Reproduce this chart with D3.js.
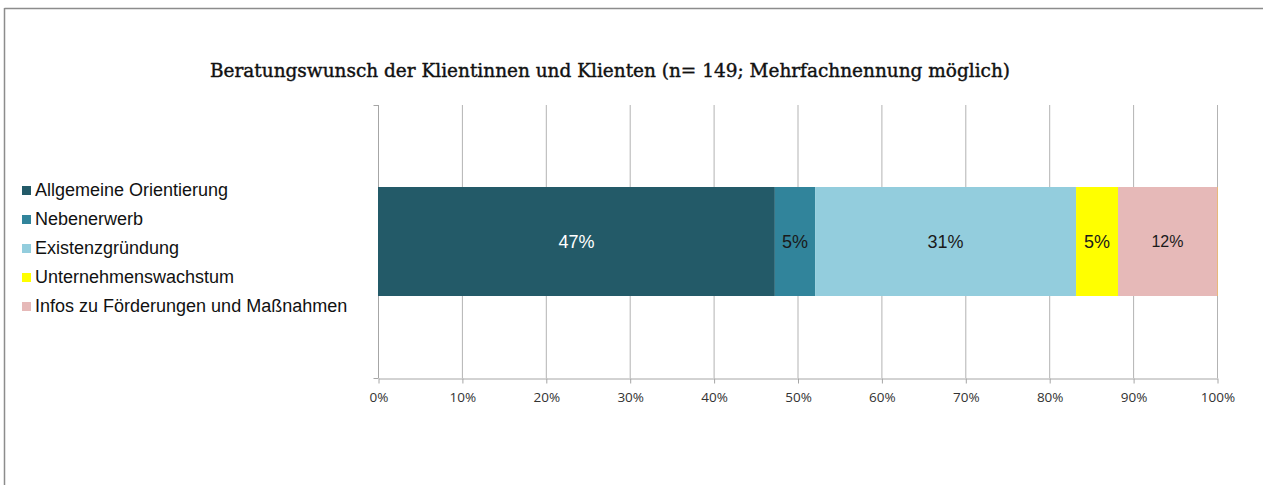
<!DOCTYPE html>
<html>
<head>
<meta charset="utf-8">
<script src="https://cdn.jsdelivr.net/npm/d3@7"></script>
<style>
  body { margin: 0; background: #fff; }
  svg { display: block; }
</style>
</head>
<body>
<div id="plot"></div>
<script>
// chart data
const categories = ["Allgemeine Orientierung", "Nebenerwerb", "Existenzgründung", "Unternehmenswachstum", "Infos zu Förderungen und Maßnahmen"];
const values = [47.3, 4.8, 31.1, 5.0, 11.8];
const labels = ["47%", "5%", "31%", "5%", "12%"];
const colors = ["#235a68", "#31849b", "#93cddd", "#ffff00", "#e6b9b8"];
const labelColors = ["#ffffff", "#1a1a1a", "#1a1a1a", "#1a1a1a", "#1a1a1a"];
const tickValues = [0, 10, 20, 30, 40, 50, 60, 70, 80, 90, 100];
const title = "Beratungswunsch der Klientinnen und Klienten (n= 149; Mehrfachnennung möglich)";

const width = 1263, height = 485;
const svg = d3.select("#plot").append("svg")
  .attr("width", width)
  .attr("height", height);

// chart frame (top and left edges visible)
svg.append("line").attr("x1", 4.5).attr("x2", width).attr("y1", 8.5).attr("y2", 8.5)
  .attr("stroke", "#8c8c8c").attr("stroke-width", 1.5);
svg.append("line").attr("x1", 4.5).attr("x2", 4.5).attr("y1", 8).attr("y2", height)
  .attr("stroke", "#8c8c8c").attr("stroke-width", 1.5);

// title (slab serif look, medium weight)
svg.append("text")
  .attr("x", 210).attr("y", 77)
  .attr("font-family", "'DejaVu Serif', serif")
  .attr("font-size", 18)
  .attr("textLength", 800)
  .attr("lengthAdjust", "spacingAndGlyphs")
  .attr("fill", "#111")
  .attr("stroke", "#111")
  .attr("stroke-width", 0.4)
  .text(title);

const plotTop = 105, plotBottom = 378;
const x = d3.scaleLinear().domain([0, 100]).range([378, 1217]);

// gridlines
svg.append("g").selectAll("line")
  .data(tickValues.slice(1))
  .join("line")
  .attr("x1", d => x(d) + 0.5).attr("x2", d => x(d) + 0.5)
  .attr("y1", plotTop).attr("y2", plotBottom)
  .attr("stroke", "#b3b3b3");

// x axis
const xAxis = svg.append("g")
  .attr("transform", `translate(0.5,${plotBottom + 0.5})`)
  .call(d3.axisBottom(x).tickValues(tickValues).tickFormat(d => d + "%").tickSize(5).tickPadding(9).tickSizeOuter(0));
xAxis.select(".domain").attr("stroke", "#a6a6a6");
xAxis.selectAll(".tick line").attr("stroke", "#a6a6a6");
xAxis.selectAll(".tick text")
  .attr("font-family", "'Open Sans', 'Liberation Sans', sans-serif")
  .attr("font-size", 13.5)
  .attr("fill", "#333");

// y axis
const yAxisG = svg.append("g")
  .attr("transform", `translate(${x(0) + 0.5},0)`);
yAxisG.append("line").attr("y1", plotTop).attr("y2", plotBottom).attr("stroke", "#a6a6a6");
yAxisG.selectAll(".yt")
  .data([plotTop, plotBottom])
  .join("line")
  .attr("x1", -5).attr("x2", 0)
  .attr("y1", d => d + 0.5).attr("y2", d => d + 0.5)
  .attr("stroke", "#a6a6a6");

// stacked segments
const stacked = [];
let acc = 0;
values.forEach((v, i) => {
  stacked.push({ start: acc, end: acc + v, i });
  acc += v;
});

const barY = 187, barH = 109;
svg.append("g").selectAll("rect")
  .data(stacked)
  .join("rect")
  .attr("x", d => x(d.start))
  .attr("width", d => x(d.end) - x(d.start))
  .attr("y", barY)
  .attr("height", barH)
  .attr("fill", d => colors[d.i]);

// thin outline seen on the right edge
svg.append("line")
  .attr("x1", x(acc) + 0.5).attr("x2", x(acc) + 0.5)
  .attr("y1", barY).attr("y2", barY + barH)
  .attr("stroke", "#e8b87a").attr("stroke-width", 1);

svg.append("g").selectAll("text")
  .data(stacked)
  .join("text")
  .attr("x", d => (x(d.start) + x(d.end)) / 2)
  .attr("y", barY + barH / 2)
  .attr("dy", "0.35em")
  .attr("text-anchor", "middle")
  .attr("font-family", "'Liberation Sans', Arial, sans-serif")
  .attr("font-size", d => d.i === 4 ? 16 : 18)
  .attr("fill", d => labelColors[d.i])
  .text(d => labels[d.i]);

// legend
const legend = svg.append("g").selectAll("g")
  .data(categories)
  .join("g")
  .attr("transform", (d, i) => `translate(22,${190 + i * 29})`);
legend.append("rect")
  .attr("x", 0).attr("y", -4).attr("width", 9).attr("height", 9)
  .attr("fill", (d, i) => colors[i]);
legend.append("text")
  .attr("x", 13).attr("y", 0).attr("dy", "0.35em")
  .attr("font-family", "'Liberation Sans', Arial, sans-serif")
  .attr("font-size", 18)
  .attr("fill", "#111")
  .text(d => d);
</script>
</body>
</html>
